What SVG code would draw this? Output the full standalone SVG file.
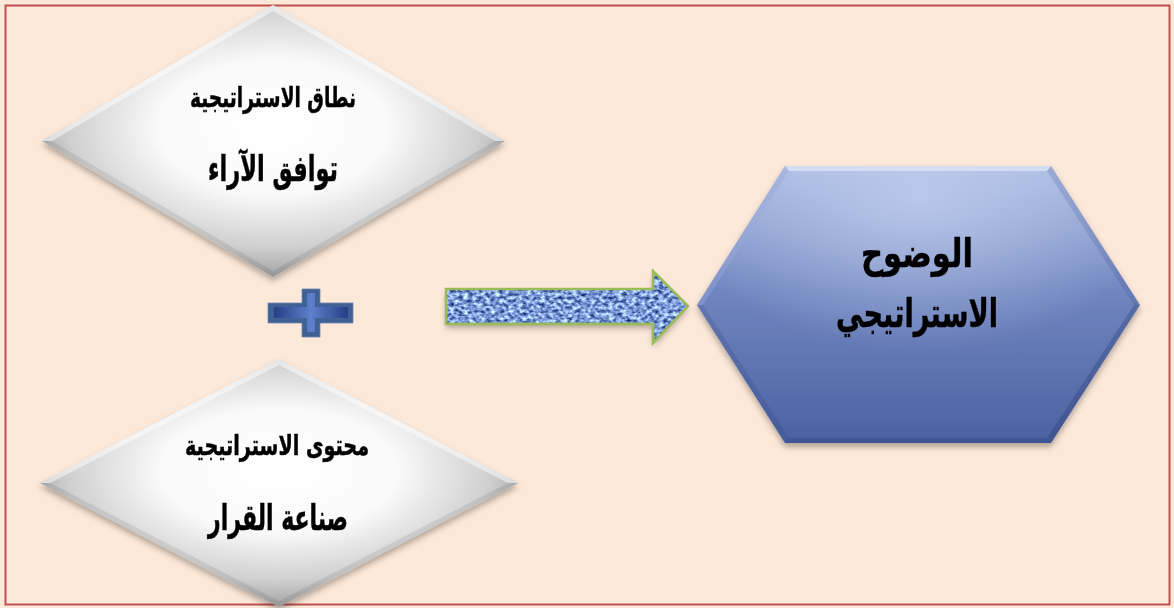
<svg xmlns="http://www.w3.org/2000/svg" width="1174" height="608" viewBox="0 0 1174 608">
  <defs>
    <style>
      .ar { font-family: "DejaVu Sans", "Noto Sans", sans-serif; font-weight: bold; fill: #000; stroke: #000; stroke-width: 0.5; text-anchor: middle; direction: rtl; }
      .facet-light { fill: #ffffff; opacity: 0.5; }
      .facet-dark { fill: #000000; opacity: 0.08; }
    </style>
    <radialGradient id="diamondFace" cx="0.5" cy="0.45" r="0.55">
      <stop offset="0" stop-color="#ffffff"/>
      <stop offset="0.45" stop-color="#fafafa"/>
      <stop offset="0.8" stop-color="#d0d0d0"/>
      <stop offset="1" stop-color="#a2a2a2"/>
    </radialGradient>
    <linearGradient id="hexFace" x1="0" y1="0" x2="0" y2="1">
      <stop offset="0" stop-color="#a9b9e2"/>
      <stop offset="0.45" stop-color="#7186c0"/>
      <stop offset="1" stop-color="#4b61a1"/>
    </linearGradient>
    <radialGradient id="hexGlow" cx="0.5" cy="0.12" r="0.55">
      <stop offset="0" stop-color="#c6d2f0" stop-opacity="0.7"/>
      <stop offset="1" stop-color="#c6d2f0" stop-opacity="0"/>
    </radialGradient>
    <linearGradient id="plusFace" x1="0" y1="0" x2="1" y2="0">
      <stop offset="0" stop-color="#263f86"/>
      <stop offset="0.5" stop-color="#5f80cc"/>
      <stop offset="1" stop-color="#263f86"/>
    </linearGradient>
    <filter id="shadow" x="-10%" y="-10%" width="120%" height="130%">
      <feDropShadow dx="0" dy="4" stdDeviation="3" flood-color="#000" flood-opacity="0.3"/>
    </filter>
    <!-- woven blue texture for the arrow body -->
    <filter id="fabric" x="0" y="0" width="1" height="1" color-interpolation-filters="sRGB">
      <feTurbulence type="fractalNoise" baseFrequency="0.22 0.3" numOctaves="2" seed="7" result="noise"/>
      <feColorMatrix in="noise" type="matrix" result="tint"
        values="1.3 0 0 0 -0.16
                1.4 0 0 0 -0.09
                1.3 0 0 0 0.2
                0 0 0 0 1"/>
      <feComposite in="tint" in2="SourceGraphic" operator="in"/>
    </filter>
  </defs>

  <!-- page background and frame -->
  <rect x="0" y="0" width="1174" height="608" fill="#fde9d9"/>
  <rect x="5.5" y="5.5" width="1164" height="599" fill="none" stroke="#c0504d" stroke-width="2"/>

  <!-- upper diamond -->
  <g id="node-scope" filter="url(#shadow)">
    <polygon points="273,5 505,141 273,277 42,141" fill="url(#diamondFace)"/>
    <polygon class="facet-light" points="273,5 273,11 52,141 42,141"/>
    <polygon class="facet-light" points="273,5 505,141 495,141 273,11" opacity="0.3"/>
    <polygon class="facet-dark" points="42,141 52,141 273,271 273,277"/>
    <polygon class="facet-dark" points="505,141 273,277 273,271 495,141"/>
    <text class="ar" x="273" y="107" font-size="28" textLength="166" lengthAdjust="spacingAndGlyphs">نطاق الاستراتيجية</text>
    <text class="ar" x="273" y="181" font-size="36" textLength="130" lengthAdjust="spacingAndGlyphs">توافق الآراء</text>
  </g>

  <!-- lower diamond -->
  <g id="node-content" filter="url(#shadow)">
    <polygon points="279,359 518,483 279,607 40,483" fill="url(#diamondFace)"/>
    <polygon class="facet-light" points="279,359 279,365 50,483 40,483"/>
    <polygon class="facet-light" points="279,359 518,483 508,483 279,365" opacity="0.3"/>
    <polygon class="facet-dark" points="40,483 50,483 279,601 279,607"/>
    <polygon class="facet-dark" points="518,483 279,607 279,601 508,483"/>
    <text class="ar" x="277" y="455" font-size="28" textLength="184" lengthAdjust="spacingAndGlyphs">محتوى الاستراتيجية</text>
    <text class="ar" x="278" y="530" font-size="36" textLength="140" lengthAdjust="spacingAndGlyphs">صناعة القرار</text>
  </g>

  <!-- plus sign between the diamonds -->
  <g id="node-plus">
    <polygon points="302,289 320,289 320,303 353,303 353,323 320,323 320,337 302,337 302,323 268,323 268,303 302,303" fill="#3f6196" stroke="#6f86b0" stroke-width="0.8"/>
    <polygon points="307,293 315,293 315,307 348,307 348,318 315,318 315,332 307,332 307,318 274,318 274,307 307,307" fill="url(#plusFace)"/>
  </g>

  <!-- hexagon result -->
  <g id="node-clarity" filter="url(#shadow)">
    <polygon points="785,166 1051,166 1140,305 1051,443 785,443 697,305" fill="url(#hexFace)"/>
    <polygon points="785,166 1051,166 1140,305 1051,443 785,443 697,305" fill="url(#hexGlow)"/>
    <polygon points="785,166 1051,166 1047,171 789,171" fill="#d8e0f4" opacity="0.9"/>
    <polygon points="697,305 785,166 789,171 703,305" fill="#9aabd8" opacity="0.4"/>
    <polygon points="1140,305 1051,166 1047,171 1134,305" fill="#3a4f8c" opacity="0.2"/>
    <polygon points="697,305 703,305 789,438 785,443" fill="#2d427e" opacity="0.2"/>
    <polygon points="1140,305 1134,305 1047,438 1051,443" fill="#24386f" opacity="0.3"/>
    <polygon points="785,443 789,438 1047,438 1051,443" fill="#2a3f78" opacity="0.35"/>
    <text class="ar" x="917" y="267" font-size="40" textLength="112" lengthAdjust="spacingAndGlyphs">الوضوح</text>
    <text class="ar" x="917" y="327" font-size="40" textLength="162" lengthAdjust="spacingAndGlyphs">الاستراتيجي</text>
  </g>

  <!-- connector arrow -->
  <g id="connectors">
    <g filter="url(#shadow)">
      <polygon points="446,289 653,289 653,271 688,306 653,343 653,324 446,324" fill="#6f8fcf" filter="url(#fabric)"/>
    </g>
    <polygon points="446,289 653,289 653,271 688,306 653,343 653,324 446,324" fill="none" stroke="#9bbb59" stroke-width="2.5" stroke-linejoin="miter"/>
  </g>
</svg>
